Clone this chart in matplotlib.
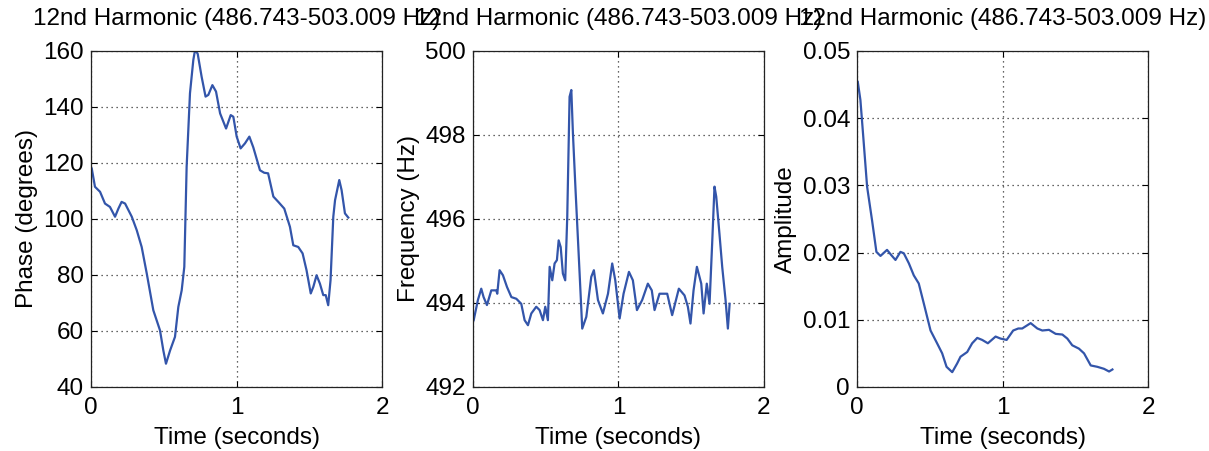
import matplotlib
matplotlib.use("Agg")
import matplotlib.pyplot as plt

plt.rcParams['font.family'] = ['Liberation Sans', 'DejaVu Sans']

title = "12nd Harmonic (486.743-503.009 Hz)"

# phase (degrees) vs time
phase_t = [0.005, 0.027, 0.062, 0.096, 0.13, 0.165, 0.188, 0.21, 0.234, 0.28,
           0.314, 0.348, 0.383, 0.428, 0.474, 0.497, 0.515, 0.543, 0.577, 0.6,
           0.623, 0.641, 0.657, 0.68, 0.703, 0.715, 0.733, 0.76, 0.787, 0.806,
           0.834, 0.859, 0.887, 0.928, 0.96, 0.978, 1.001, 1.028, 1.058, 1.088,
           1.115, 1.161, 1.19, 1.217, 1.253, 1.287, 1.328, 1.367, 1.39, 1.424,
           1.454, 1.481, 1.51, 1.528, 1.55, 1.573, 1.596, 1.613, 1.63, 1.646,
           1.665, 1.677, 1.706, 1.722, 1.745, 1.768]
phase = [118, 111.5, 109.7, 105.5, 104.3, 100.8, 103.7, 106.1, 105.5, 100.8,
         96, 90, 80.5, 67.4, 60.2, 53, 48.3, 53, 57.9, 68.6,
         74.5, 82.9, 118.6, 144.9, 156.8, 160.4, 159, 150.8, 143.7, 144.3,
         147.8, 145.5, 137.7, 132.3, 137.1, 136.5, 129.4, 125.2, 127, 129.4,
         125.6, 117.4, 116.5, 116.3, 108, 106.1, 103.7, 97.2, 90.6, 90,
         87.7, 81.7, 73.4, 75.8, 79.9, 76.9, 72.8, 72.8, 69.2, 78.1,
         100.8, 106.7, 113.9, 110.3, 102, 100.5]

# frequency (Hz) vs time
freq_t = [0.005, 0.034, 0.057, 0.073, 0.096, 0.126, 0.16, 0.167, 0.183, 0.206,
          0.234, 0.264, 0.298, 0.332, 0.355, 0.378, 0.401, 0.435, 0.458, 0.481,
          0.497, 0.515, 0.527, 0.545, 0.561, 0.577, 0.589, 0.603, 0.618, 0.634,
          0.648, 0.664, 0.676, 0.687, 0.705, 0.733, 0.751, 0.779, 0.813, 0.831,
          0.859, 0.893, 0.928, 0.957, 0.978, 1.008, 1.035, 1.072, 1.099, 1.127,
          1.163, 1.202, 1.229, 1.248, 1.282, 1.316, 1.335, 1.369, 1.415, 1.454,
          1.477, 1.495, 1.516, 1.539, 1.569, 1.585, 1.607, 1.626, 1.644, 1.66,
          1.672, 1.694, 1.713, 1.736, 1.752, 1.764]
freq = [493.59, 494.07, 494.34, 494.14, 493.95, 494.3, 494.3, 494.22, 494.78, 494.66,
        494.38, 494.14, 494.1, 493.98, 493.59, 493.47, 493.75, 493.91, 493.83, 493.59,
        493.91, 493.59, 494.86, 494.54, 494.94, 495.02, 495.49, 495.33, 494.7, 494.54,
        496.05, 498.91, 499.07, 498.04, 496.69, 494.7, 493.39, 493.67, 494.62, 494.78,
        494.07, 493.75, 494.22, 494.94, 494.54, 493.63, 494.22, 494.74, 494.54, 493.83,
        494.07, 494.46, 494.3, 493.83, 494.22, 494.22, 494.22, 493.71, 494.34, 494.18,
        493.91, 493.51, 494.3, 494.86, 494.46, 493.75, 494.46, 493.98, 495.42, 496.77,
        496.53, 495.65, 494.86, 494.07, 493.39, 493.98]

# amplitude vs time
amp_t = [0.005, 0.023, 0.041, 0.069, 0.103, 0.133, 0.161, 0.206, 0.236, 0.264,
         0.298, 0.321, 0.356, 0.39, 0.424, 0.459, 0.505, 0.55, 0.585, 0.615,
         0.654, 0.688, 0.711, 0.757, 0.791, 0.826, 0.86, 0.899, 0.952, 0.986,
         1.028, 1.073, 1.108, 1.135, 1.193, 1.239, 1.273, 1.319, 1.365, 1.411,
         1.445, 1.479, 1.525, 1.56, 1.606, 1.651, 1.697, 1.732, 1.755]
amp = [0.0454, 0.0427, 0.0377, 0.0298, 0.0248, 0.0201, 0.0195, 0.0204, 0.0196, 0.0189,
       0.0201, 0.0199, 0.0184, 0.0166, 0.0154, 0.0124, 0.0084, 0.0065, 0.005, 0.003,
       0.0022, 0.0035, 0.0045, 0.0052, 0.0065, 0.0073, 0.007, 0.0065, 0.0075, 0.0072,
       0.007, 0.0084, 0.0087, 0.0087, 0.0095, 0.0087, 0.0084, 0.0085, 0.0079, 0.0078,
       0.0072, 0.0062, 0.0057, 0.005, 0.0032, 0.003, 0.0027, 0.0023, 0.0026]

line_color = '#3355aa'
fs = 17.5

fig = plt.figure(figsize=(12.09, 4.51), dpi=100)
lefts = [0.0753, 0.3912, 0.7089]
axes = [fig.add_axes([l, 0.142, 0.2407, 0.745]) for l in lefts]

panels = [
    (phase_t, phase, "Phase (degrees)", (40, 160), [40, 60, 80, 100, 120, 140, 160], None),
    (freq_t, freq, "Frequency (Hz)", (492, 500), [492, 494, 496, 498, 500], None),
    (amp_t, amp, "Amplitude", (0, 0.05), [0, 0.01, 0.02, 0.03, 0.04, 0.05],
     ["0", "0.01", "0.02", "0.03", "0.04", "0.05"]),
]

for ax, (t, y, ylab, ylim, yticks, ytl) in zip(axes, panels):
    ax.plot(t, y, color=line_color, linewidth=1.6)
    ax.set_xlim(0, 2)
    ax.set_ylim(*ylim)
    ax.set_xticks([0, 1, 2])
    ax.set_xticklabels(["0", "1", "2"])
    ax.set_yticks(yticks)
    if ytl is not None:
        ax.set_yticklabels(ytl)
    ax.grid(True, color='#333333', linestyle=(0, (1, 3)), linewidth=0.9)
    ax.tick_params(direction='in', top=True, right=True, length=4,
                   labelsize=fs, width=0.8)
    ax.tick_params(axis='x', pad=7)
    ax.tick_params(axis='y', pad=5)
    for s in ax.spines.values():
        s.set_linewidth(0.9)
        s.set_color('#222222')
    ax.set_xlabel("Time (seconds)", fontsize=fs, labelpad=6)
    ax.set_ylabel(ylab, fontsize=fs)
    ax.set_title(title, fontsize=fs, pad=19)

fig.savefig("out.png", dpi=100)
